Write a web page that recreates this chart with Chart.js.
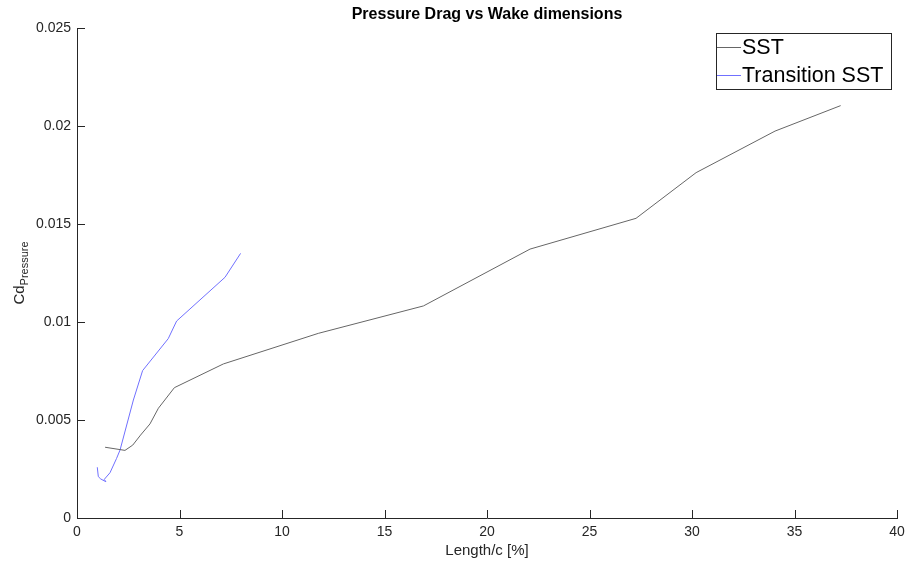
<!DOCTYPE html>
<html>
<head>
<meta charset="utf-8">
<script src="https://cdn.jsdelivr.net/npm/chart.js@4"></script>
<style>
  html, body { margin: 0; padding: 0; background: #fff; }
  #wrap { width: 908px; height: 564px; }
</style>
</head>
<body>
<div id="wrap"><canvas id="grafico" width="908" height="564"></canvas></div>
<script>
// Dados
const sstLength = [1.37, 2.34, 2.72, 3.1, 3.56, 3.97, 4.75, 7.14, 11.77, 16.9, 22.1, 27.27, 30.2, 34.05, 37.25];
const sstCd = [0.00361, 0.00345, 0.00372, 0.00423, 0.0048, 0.0056, 0.00665, 0.00786, 0.00942, 0.01082, 0.01372, 0.01529, 0.01762, 0.01974, 0.02104];

const transLength = [0.99, 1.04, 1.16, 1.41, 1.33, 1.61, 1.93, 2.1, 2.75, 3.2, 4.45, 4.86, 7.22, 7.98];
const transCd = [0.00259, 0.00211, 0.00199, 0.00185, 0.00197, 0.00231, 0.00304, 0.00347, 0.00602, 0.00752, 0.00915, 0.01005, 0.01228, 0.0135];

const xTicks = [0, 5, 10, 15, 20, 25, 30, 35, 40];
const yTicks = [0, 0.005, 0.01, 0.015, 0.02, 0.025];

const corSST = '#666666';
const corTrans = '#7070ff';
const fonte = '"Liberation Sans", Arial, sans-serif';

const pares = (xs, ys) => xs.map((x, i) => ({ x: x, y: ys[i] }));

// Plugin que desenha título, rótulo do eixo y, ticks internos e legenda
const extras = {
    id: 'extras',
    afterDraw(chart) {
        const ctx = chart.ctx;
        const area = chart.chartArea;
        const sx = chart.scales.x;
        const sy = chart.scales.y;
        ctx.save();

        // ticks para dentro (estilo Matlab)
        ctx.strokeStyle = '#262626';
        ctx.lineWidth = 1;
        ctx.beginPath();
        xTicks.forEach(v => {
            const px = Math.round(sx.getPixelForValue(v)) + 0.5;
            ctx.moveTo(px, area.bottom);
            ctx.lineTo(px, area.bottom - 8);
        });
        yTicks.forEach(v => {
            const py = Math.round(sy.getPixelForValue(v)) + 0.5;
            ctx.moveTo(area.left, py);
            ctx.lineTo(area.left + 8, py);
        });
        ctx.stroke();

        // título
        ctx.fillStyle = '#000';
        ctx.font = 'bold 16px ' + fonte;
        ctx.textAlign = 'center';
        ctx.textBaseline = 'middle';
        ctx.fillText('Pressure Drag vs Wake dimensions', (area.left + area.right) / 2, 15);

        // rótulo y com subscrito
        ctx.translate(19, 273);
        ctx.rotate(-Math.PI / 2);
        ctx.fillStyle = '#262626';
        ctx.font = '15px ' + fonte;
        const wCd = ctx.measureText('Cd').width;
        ctx.font = '11px ' + fonte;
        const wSub = ctx.measureText('Pressure').width;
        const x0 = -(wCd + wSub) / 2;
        ctx.textAlign = 'left';
        ctx.textBaseline = 'alphabetic';
        ctx.font = '15px ' + fonte;
        ctx.fillText('Cd', x0, 5);
        ctx.font = '11px ' + fonte;
        ctx.fillText('Pressure', x0 + wCd, 9);
        ctx.restore();

        // legenda
        ctx.save();
        ctx.fillStyle = '#fff';
        ctx.fillRect(716.5, 33.5, 175, 56);
        ctx.strokeStyle = '#262626';
        ctx.lineWidth = 1;
        ctx.strokeRect(716.5, 33.5, 175, 56);
        ctx.font = '21.5px ' + fonte;
        ctx.textAlign = 'left';
        ctx.textBaseline = 'middle';
        chart.data.datasets.forEach((ds, i) => {
            const ly = 47 + i * 28;
            ctx.strokeStyle = ds.borderColor;
            ctx.beginPath();
            ctx.moveTo(717, ly + 0.5);
            ctx.lineTo(741, ly + 0.5);
            ctx.stroke();
            ctx.fillStyle = '#000';
            ctx.fillText(ds.label, 742, ly + 1);
        });
        ctx.restore();
    }
};

const ctx = document.getElementById('grafico').getContext('2d');

const meuGrafico = new Chart(ctx, {
    type: 'line',
    data: {
        datasets: [{
            label: 'SST',
            data: pares(sstLength, sstCd),
            borderColor: corSST,
            borderWidth: 1,
            pointRadius: 0,
            tension: 0,
            fill: false
        }, {
            label: 'Transition SST',
            data: pares(transLength, transCd),
            borderColor: corTrans,
            borderWidth: 1,
            pointRadius: 0,
            tension: 0,
            fill: false
        }]
    },
    options: {
        responsive: false,
        animation: false,
        layout: { padding: { left: 0, right: 0, top: 28, bottom: 0 } },
        plugins: {
            legend: { display: false },
            title: { display: false },
            tooltip: { enabled: false }
        },
        scales: {
            x: {
                type: 'linear',
                min: 0,
                max: 40,
                afterBuildTicks: s => { s.ticks = xTicks.map(v => ({ value: v })); },
                afterFit: s => { s.height = 46; s.paddingRight = 11; s.paddingLeft = 0; },
                grid: { display: false, drawTicks: false },
                border: { display: true, color: '#262626' },
                ticks: {
                    color: '#262626',
                    font: { family: fonte, size: 14 },
                    padding: 6,
                    maxRotation: 0
                },
                title: {
                    display: true,
                    text: 'Length/c [%]',
                    color: '#262626',
                    font: { family: fonte, size: 15 },
                    padding: { top: 0 }
                }
            },
            y: {
                type: 'linear',
                min: 0,
                max: 0.025,
                afterBuildTicks: s => { s.ticks = yTicks.map(v => ({ value: v })); },
                afterFit: s => { s.width = 77; s.paddingTop = 0; s.paddingBottom = 0; },
                grid: { display: false, drawTicks: false },
                border: { display: true, color: '#262626' },
                ticks: {
                    color: '#262626',
                    font: { family: fonte, size: 14 },
                    padding: 6,
                    callback: v => String(v)
                }
            }
        }
    },
    plugins: [extras]
});
</script>
</body>
</html>
